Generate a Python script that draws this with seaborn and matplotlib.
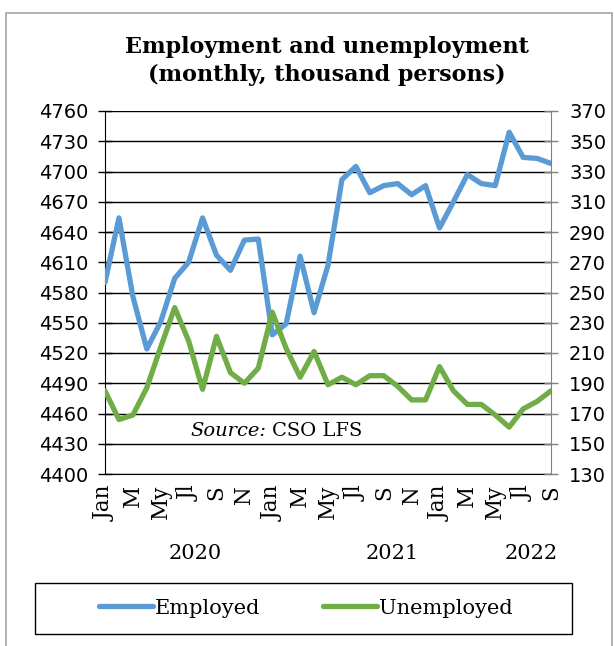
import numpy as np
import pandas as pd
import matplotlib
matplotlib.use("Agg")
import matplotlib.pyplot as plt
from matplotlib.patches import Rectangle
from matplotlib.lines import Line2D
import seaborn as sns

# Monthly series, Jan 2020 - Sep 2022 (thousand persons)
months = ["Jan", "Feb", "M", "Apr", "My", "Jun", "Jl", "Aug", "S", "Oct", "N", "Dec"] * 2 + \
         ["Jan", "Feb", "M", "Apr", "My", "Jun", "Jl", "Aug", "S"]
employed = [4590, 4654, 4576, 4524, 4551, 4594, 4610, 4654, 4617, 4602, 4632, 4633,
            4538, 4549, 4616, 4560, 4607, 4692, 4705, 4679, 4686, 4688, 4677, 4686,
            4644, 4670, 4697, 4688, 4686, 4739, 4714, 4713, 4708]
unemployed = [185, 166, 169, 187, 214, 240, 218, 186, 221, 197, 190, 200,
              237, 213, 194, 211, 189, 194, 189, 195, 195, 188, 179, 179,
              201, 185, 176, 176, 169, 161, 173, 178, 185]
years = ["2020", "2021", "2022"]
year_label_pos = [6.5, 20.6, 30.6]

shown_months = {"Jan", "M", "My", "Jl", "S", "N"}
month_ticklabels = [m if (i % 2 == 0 and m in shown_months) else "" for i, m in enumerate(months)]

df = pd.DataFrame({"t": np.arange(len(employed)), "Employed": employed, "Unemployed": unemployed})

sns.set_style("white")
plt.rcParams["font.family"] = ["DejaVu Sans"]
plt.rcParams["text.color"] = "black"
plt.rcParams["xtick.color"] = "black"
plt.rcParams["ytick.color"] = "black"
plt.rcParams["xtick.labelcolor"] = "black"
plt.rcParams["ytick.labelcolor"] = "black"

BLUE = "#5B9BD5"
GREEN = "#70AD47"
SERIF = "DejaVu Serif"
LW = 3.8

fig = plt.figure(figsize=(6.14, 6.46), dpi=100)
ax = fig.add_axes([105 / 614, 1 - 474 / 646, (551 - 105) / 614, (474 - 111) / 646])
ax2 = ax.twinx()

sns.lineplot(data=df, x="t", y="Employed", ax=ax, color=BLUE, lw=LW,
             solid_capstyle="round", solid_joinstyle="round", zorder=3)
sns.lineplot(data=df, x="t", y="Unemployed", ax=ax2, color=GREEN, lw=LW,
             solid_capstyle="round", solid_joinstyle="round", zorder=3)

ax.set_xlim(0, len(employed) - 1)
ax.set_ylim(4400, 4760)
ax.set_yticks(np.arange(4400, 4761, 30))
ax2.set_ylim(130, 370)
ax2.set_yticks(np.arange(130, 371, 20))

ax.grid(axis="y", color="#000000", lw=1.0, zorder=0)
ax.set_axisbelow(True)
ax.set_xlabel("")
ax.set_ylabel("")
ax2.set_ylabel("")

for a in (ax, ax2):
    for s in a.spines.values():
        s.set_visible(False)
ax.spines["left"].set_visible(True)
ax.spines["left"].set_color("#000000")
ax.spines["bottom"].set_visible(True)
ax.spines["bottom"].set_color("#000000")
ax2.spines["right"].set_visible(True)
ax2.spines["right"].set_color("#808080")

ax.set_xticks(np.arange(len(employed)))
ax.set_xticklabels(month_ticklabels, rotation=90, fontfamily=SERIF, fontsize=15.5)
ax.tick_params(axis="x", direction="inout", length=10, width=1, color="#000000", pad=3)
ax.tick_params(axis="y", direction="inout", length=10, width=1, color="#000000", labelsize=14, pad=7)
ax2.tick_params(axis="y", direction="inout", length=10, width=1, color="#808080", labelsize=14, pad=8)

for yr, xp in zip(years, year_label_pos):
    ax.text(xp, -0.218, yr, transform=ax.get_xaxis_transform(), ha="center", va="center",
            fontfamily=SERIF, fontsize=15)

ax.text(6.1, 4443, "Source:", fontfamily=SERIF, fontstyle="italic", fontsize=14,
        va="center", ha="left", zorder=4)
ax.text(12.0, 4443, "CSO LFS", fontfamily=SERIF, fontsize=14, va="center", ha="left", zorder=4)

fig.text(327 / 614, 1 - 47 / 646, "Employment and unemployment", ha="center", va="center",
         fontfamily=SERIF, fontweight="bold", fontsize=16)
fig.text(327 / 614, 1 - 75 / 646, "(monthly, thousand persons)", ha="center", va="center",
         fontfamily=SERIF, fontweight="bold", fontsize=16)

# outer chart frame
fig.add_artist(Rectangle((6 / 614, -0.05), (612 - 6) / 614, 1 - 13 / 646 + 0.05,
                         transform=fig.transFigure, fill=False, edgecolor="#a6a6a6", lw=1.2))
# legend box
fig.add_artist(Rectangle((35 / 614, 1 - 634 / 646), (572 - 35) / 614, (634 - 583) / 646,
                         transform=fig.transFigure, fill=False, edgecolor="#000000", lw=1.0))
handles = [Line2D([], [], color=BLUE, lw=LW, solid_capstyle="round"),
           Line2D([], [], color=GREEN, lw=LW, solid_capstyle="round")]
fig.legend(handles, ["Employed", "Unemployed"], loc="center", bbox_to_anchor=(306 / 614, 1 - 608 / 646),
           ncol=2, frameon=False, handlelength=2.6, handletextpad=0.1, columnspacing=3.0,
           prop={"family": SERIF, "size": 15})

fig.savefig("out.png", dpi=100)
